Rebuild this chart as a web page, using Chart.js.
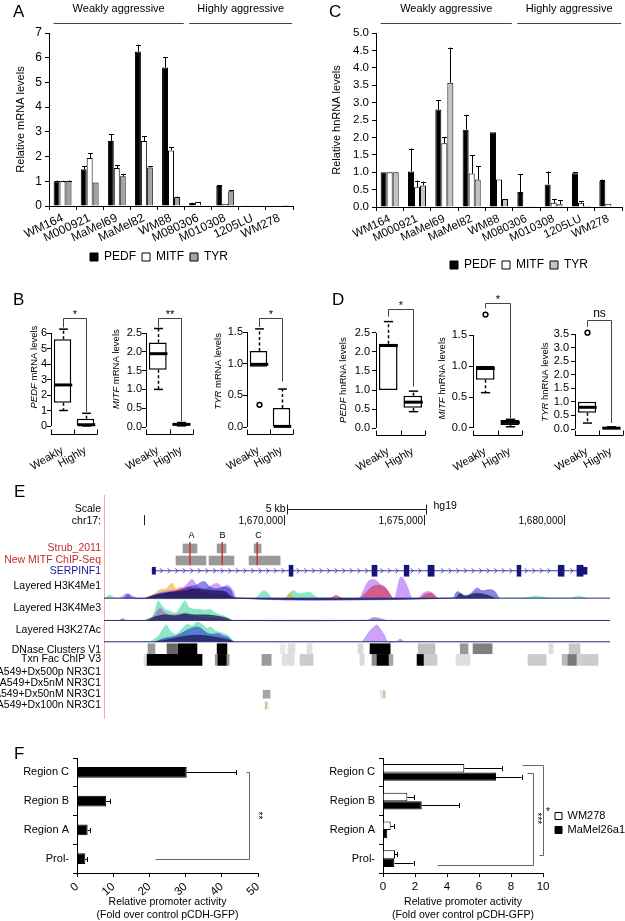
<!DOCTYPE html>
<html>
<head>
<meta charset="utf-8">
<title>PEDF / MITF figure</title>
<script src="https://cdn.jsdelivr.net/npm/chart.js@4.4.1/dist/chart.umd.min.js"></script>
<style>
  html, body { margin: 0; padding: 0; background: #fff; overflow: hidden; }
  #fig { position: relative; width: 625px; height: 921px; overflow: hidden; background: #fff; }
  #fig canvas { position: absolute; }
  .tag { position: absolute; font: 17px 'Liberation Sans', Arial, sans-serif; line-height: 17px; color: #000; }
</style>
</head>
<body>
<div id="fig">
  <canvas id="chartA" width="318" height="273" style="left:0;top:0"></canvas>
  <canvas id="chartC" width="418" height="281" style="left:310px;top:0"></canvas>
  <canvas id="boxB1" width="100" height="184" style="left:0;top:286px"></canvas>
  <canvas id="boxB2" width="100" height="184" style="left:100px;top:286px"></canvas>
  <canvas id="boxB3" width="100" height="184" style="left:200px;top:286px"></canvas>
  <canvas id="boxD1" width="100" height="184" style="left:330px;top:286px"></canvas>
  <canvas id="boxD2" width="100" height="184" style="left:430px;top:286px"></canvas>
  <canvas id="boxD3" width="93" height="184" style="left:532px;top:286px"></canvas>
  <canvas id="chartE" width="625" height="247" style="left:0;top:483px"></canvas>
  <canvas id="chartF1" width="300" height="181" style="left:0;top:740px"></canvas>
  <canvas id="chartF2" width="335" height="196" style="left:300px;top:725px"></canvas>
  <div class="tag" style="left:13px;top:3px">A</div>
  <div class="tag" style="left:329px;top:3px">C</div>
  <div class="tag" style="left:13px;top:291px">B</div>
  <div class="tag" style="left:332px;top:291px">D</div>
  <div class="tag" style="left:14px;top:483px">E</div>
  <div class="tag" style="left:14px;top:745px">F</div>
</div>
<script>
// ---------- A / C : expression in cell lines ----------
const cellLines = ['WM164', 'M000921', 'MaMel69', 'MaMel82', 'WM88', 'M080306', 'M010308', '1205LU', 'WM278'];
const aggrGroups = ['Weakly aggressive', 'Highly aggressive'];
const aggrFirst = [0, 5];
const aggrLast = [4, 8];

const pedfMrna = [1.0, 1.49, 2.63, 6.25, 5.6, 0.12, 0.81, 0.01, 0.0];
const pedfMrnaErr = [0.03, 0.12, 0.27, 0.28, 0.42, 0.01, 0.03, 0, 0];
const mitfMrna = [1.0, 1.94, 1.54, 2.63, 2.25, 0.16, 0.08, 0.01, 0.01];
const mitfMrnaErr = [0.02, 0.19, 0.1, 0.2, 0.12, 0, 0, 0, 0];
const tyrMrna = [1.0, 0.95, 1.2, 1.56, 0.35, 0.01, 0.6, 0.01, 0.04];
const tyrMrnaErr = [0.03, 0, 0.1, 0.04, 0.03, 0, 0.04, 0, 0];

const pedfHn = [1.0, 1.02, 2.8, 2.22, 2.15, 0.43, 0.65, 0.97, 0.75];
const pedfHnErr = [0, 0.66, 0.27, 0.43, 0, 0.52, 0.37, 0.03, 0.04];
const mitfHn = [1.0, 0.57, 1.83, 0.96, 0.79, 0.02, 0.12, 0.12, 0.09];
const mitfHnErr = [0, 0.19, 0.17, 0.52, 0, 0, 0.1, 0.05, 0];
const tyrHn = [1.0, 0.62, 3.57, 0.79, 0.23, 0.01, 0.08, 0.03, 0];
const tyrHnErr = [0, 0.11, 1.01, 0.38, 0, 0, 0.12, 0, 0];

// ---------- B / D : box plots, [min, q1, median, q3, max] ----------
const boxCats = ['Weakly', 'Highly'];
const pedfMrnaWeakly = [1.0, 1.5, 2.65, 5.6, 6.25];
const pedfMrnaHighly = [0.0, 0.02, 0.08, 0.47, 0.82];
const mitfMrnaWeakly = [1.0, 1.52, 1.95, 2.25, 2.62];
const mitfMrnaHighly = [0.03, 0.05, 0.07, 0.1, 0.12];
const tyrMrnaWeakly = [0.95, 0.95, 0.99, 1.2, 1.55];
const tyrMrnaHighly = [0.0, 0.0, 0.01, 0.3, 0.6];
const tyrMrnaOutliers = [0.35];
const pedfHnWeakly = [1.0, 1.0, 2.17, 2.22, 2.8];
const pedfHnHighly = [0.43, 0.53, 0.68, 0.85, 0.97];
const mitfHnWeakly = [0.57, 0.78, 0.96, 1.0, 1.0];
const mitfHnHighly = [0.02, 0.05, 0.09, 0.13, 0.14];
const mitfHnOutliers = [1.83];
const tyrHnWeakly = [0.22, 0.6, 0.8, 1.0, 1.0];
const tyrHnHighly = [0.0, 0.0, 0.03, 0.06, 0.08];
const tyrHnOutliers = [3.55];
const ticks0to6 = [0, 1, 2, 3, 4, 5, 6];
const ticks0to25 = [0, 0.5, 1, 1.5, 2, 2.5];
const ticks0to15 = [0, 0.5, 1, 1.5];
const ticks0to35 = [0, 0.5, 1, 1.5, 2, 2.5, 3, 3.5];

// ---------- E : SERPINF1 locus, chr17 (kb) ----------
const chromTicks = [1665, 1670, 1675, 1680];
const chromTickLabels = ['', '1,670,000', '1,675,000', '1,680,000'];
const scaleBar = [1670.1, 1675.07];
const regionNames = ['A', 'B', 'C'];
const regionPos = [1666.68, 1667.79, 1669.07];
const strubPeaks = [[1666.39, 1666.89], [1667.61, 1667.93], [1668.93, 1669.18]];
const strubSummits = [1666.64, 1667.79, 1669.04];
const mitfChipPeaks = [[1666.14, 1667.21], [1667.32, 1668.21], [1668.75, 1669.86]];
const serpinf1Span = [1665.41, 1680.68];
const serpinf1Exons = [[1670.18, 1670.32], [1673.14, 1673.32], [1674.29, 1674.46], [1675.14, 1675.36],
  [1678.32, 1678.46], [1679.79, 1680.0], [1680.46, 1680.68]];
const serpinf1Utr = [[1665.29, 1665.41], [1680.68, 1680.82]];
const dnaseClusters = [[1665.14, 1665.39], [1665.82, 1666.18], [1666.21, 1666.89], [1667.61, 1667.96],
  [1669.86, 1670.04], [1670.14, 1670.39], [1670.82, 1671.0], [1672.64, 1672.82], [1673.07, 1673.79],
  [1674.79, 1675.39], [1676.29, 1676.57], [1676.75, 1677.43], [1679.46, 1679.61], [1680.18, 1680.57]];
const dnaseScores = [400, 600, 1000, 1000, 90, 130, 120, 150, 1000, 250, 400, 500, 130, 220];
const txnSites = [[1665.0, 1665.11], [1665.11, 1667.07], [1667.54, 1667.64], [1667.64, 1667.96],
  [1667.96, 1668.04], [1669.21, 1669.54], [1669.93, 1670.36], [1670.57, 1671.04], [1672.71, 1672.86],
  [1673.14, 1673.32], [1673.32, 1673.75], [1673.75, 1673.89], [1674.75, 1675.0], [1675.0, 1675.46],
  [1676.14, 1676.64], [1678.71, 1679.36], [1679.93, 1680.14], [1680.14, 1680.46], [1680.46, 1680.64],
  [1680.64, 1681.21]];
const txnScores = [130, 1000, 400, 1000, 400, 400, 130, 200, 150, 450, 1000, 350, 1000, 200, 130, 200, 270, 530, 180, 200];
const nr3c1Dx50 = [[1669.25, 1669.5], [1673.43, 1673.64]];
const nr3c1Dx50Scores = [350, 80];
const nr3c1Dx50Summits = [1673.57];
const nr3c1Dx100 = [[1669.29, 1669.46]];
const nr3c1Dx100Scores = [60];
const nr3c1Dx100Summits = [1669.36];

// layered histone signals, [kb, signal]
const k4me1Orange = [[1665.04, 0], [1665.39, 5], [1665.57, 9], [1665.79, 10], [1666.0, 16], [1666.14, 10], [1666.29, 12],
  [1666.5, 8], [1666.71, 10], [1667.0, 6], [1667.36, 4], [1667.71, 3], [1668.07, 2], [1668.29, 0], [1670.04, 0],
  [1670.21, 5], [1670.36, 0]];
const k4me1Purple = [[1664.14, 0], [1664.39, 5], [1664.61, 2], [1664.75, 0], [1665.21, 0], [1665.5, 5], [1665.86, 8],
  [1666.21, 9], [1666.5, 14], [1666.71, 20], [1666.93, 12], [1667.18, 10], [1667.43, 14], [1667.61, 16], [1667.79, 12],
  [1668.0, 14], [1668.18, 8], [1668.32, 0], [1672.64, 0], [1672.86, 10], [1673.0, 18], [1673.14, 20], [1673.29, 19],
  [1673.43, 15], [1673.61, 12], [1673.79, 4], [1673.89, 0], [1673.96, 0], [1674.07, 14], [1674.18, 23], [1674.32, 18],
  [1674.46, 8], [1674.57, 0], [1674.79, 0], [1675.0, 6], [1675.21, 7], [1675.39, 3], [1675.5, 0]];
const k4me1Red = [[1665.57, 0], [1665.86, 6], [1666.14, 8], [1666.43, 10], [1666.64, 12], [1666.86, 8], [1667.18, 6],
  [1667.54, 4], [1667.89, 3], [1668.14, 0], [1671.64, 0], [1671.86, 3], [1672.07, 0], [1672.71, 0], [1672.93, 6],
  [1673.14, 12], [1673.36, 14], [1673.57, 12], [1673.79, 4], [1673.89, 0], [1674.86, 0], [1675.04, 4], [1675.29, 5],
  [1675.43, 0]];
const k4me1Blue = [[1664.29, 0], [1664.43, 4], [1664.57, 0], [1665.04, 0], [1665.39, 4], [1665.75, 6], [1666.21, 8],
  [1666.57, 12], [1666.86, 14], [1667.14, 18], [1667.36, 12], [1667.57, 10], [1667.86, 12], [1668.07, 10], [1668.29, 0],
  [1676.0, 0], [1676.18, 7], [1676.36, 4], [1676.54, 3], [1676.71, 6], [1676.89, 11], [1677.07, 8], [1677.29, 9],
  [1677.5, 8], [1677.68, 0]];
const k4me1Navy = [[1665.04, 0], [1665.39, 3], [1665.93, 6], [1666.46, 8], [1666.82, 10], [1667.18, 9], [1667.54, 8],
  [1667.89, 7], [1668.25, 0], [1676.11, 0], [1676.29, 5], [1676.46, 2], [1676.82, 5], [1677.18, 4], [1677.54, 0]];
const k4me1Teal = [[1663.61, 0], [1663.79, 3], [1663.96, 0], [1668.96, 0], [1669.14, 5], [1669.29, 8], [1669.43, 5],
  [1669.57, 0], [1670.04, 0], [1670.21, 6], [1670.36, 8], [1670.5, 5], [1670.93, 6], [1671.11, 2], [1671.29, 0],
  [1678.5, 0], [1679.0, 2], [1679.5, 0], [1680.2, 0], [1680.5, 2], [1680.8, 0]];
const k4me3Teal = [[1665.21, 0], [1665.39, 10], [1665.5, 21], [1665.61, 17], [1665.75, 12], [1665.93, 10], [1666.14, 8],
  [1666.29, 14], [1666.46, 21], [1666.61, 14], [1666.82, 12], [1667.0, 12], [1667.18, 11], [1667.36, 12], [1667.54, 8],
  [1667.71, 6], [1667.93, 4], [1668.14, 0]];
const k4me3Purple = [[1665.29, 0], [1665.43, 8], [1665.57, 13], [1665.71, 9], [1665.93, 6], [1666.29, 7], [1666.5, 8],
  [1666.71, 5], [1667.0, 4], [1667.36, 3], [1667.71, 2], [1668.0, 0], [1672.93, 0], [1673.18, 3], [1673.43, 2], [1673.64, 0]];
const k4me3Navy = [[1665.04, 0], [1665.39, 4], [1665.75, 6], [1666.11, 5], [1666.46, 7], [1666.82, 6], [1667.18, 6],
  [1667.54, 5], [1667.89, 3], [1668.14, 0]];
const k4me3Red = [[1664.14, 0], [1664.21, 2], [1664.36, 0]];
const k27acTeal = [[1665.21, 0], [1665.5, 6], [1665.68, 14], [1665.79, 18], [1665.93, 12], [1666.14, 8], [1666.36, 14],
  [1666.54, 19], [1666.71, 17], [1666.89, 21], [1667.07, 19], [1667.25, 14], [1667.36, 16], [1667.54, 12], [1667.71, 10],
  [1667.93, 8], [1668.07, 5], [1668.21, 0]];
const k27acBlue = [[1665.39, 0], [1665.75, 4], [1666.11, 6], [1666.39, 10], [1666.64, 14], [1666.86, 16], [1667.0, 15],
  [1667.21, 10], [1667.43, 8], [1667.64, 9], [1667.86, 6], [1668.0, 5], [1668.14, 0]];
const k27acNavy = [[1665.39, 0], [1665.93, 3], [1666.46, 6], [1667.0, 7], [1667.54, 5], [1668.07, 2], [1668.21, 0]];
const k27acPurple = [[1672.79, 0], [1672.93, 6], [1673.07, 12], [1673.21, 16], [1673.32, 18], [1673.43, 14], [1673.57, 8],
  [1673.71, 0], [1674.0, 0], [1674.14, 3], [1674.29, 0]];

const trackLabels = ['A549+Dx100n NR3C1', 'A549+Dx50nM NR3C1', 'A549+Dx5nM NR3C1', 'A549+Dx500p NR3C1',
  'Txn Fac ChIP V3', 'DNase Clusters V1', 'Layered H3K27Ac', 'Layered H3K4Me3', 'Layered H3K4Me1',
  'SERPINF1', 'New MITF ChIP-Seq', 'Strub_2011', 'chr17:', 'Scale'];

// ---------- F : promoter reporter assays ----------
const regions = ['Region C', 'Region B', 'Region A', 'Prol-'];
const promoterActivity = [30.3, 8.07, 2.94, 2.29];
const promoterActivityErr = [13.7, 1.1, 0.73, 0.46];
const wm278Activity = [5.08, 1.52, 0.48, 0.75];
const wm278ActivityErr = [2.35, 0.42, 0.2, 0.15];
const mamel26Activity = [7.06, 2.42, 0.27, 0.71];
const mamel26ActivityErr = [1.6, 2.35, 0, 1.2];
const promoterTitle = ['Relative promoter activity', '(Fold over control pCDH-GFP)'];

// =====================================================================
Chart.defaults.font.family = "'Liberation Sans', Arial, Helvetica, sans-serif";
Chart.defaults.color = '#000';
const FONT = "'Liberation Sans', Arial, Helvetica, sans-serif";
const common = { responsive: false, animation: false, devicePixelRatio: 1, events: [] };
const el = id => document.getElementById(id);

function seg(ctx, x0, y0, x1, y1) {
  ctx.beginPath(); ctx.moveTo(x0, y0); ctx.lineTo(x1, y1); ctx.stroke();
}

// error bars from dataset.errors
const errorBars = {
  id: 'errorBars',
  afterDatasetsDraw(chart) {
    const {ctx} = chart;
    const horiz = chart.options.indexAxis === 'y';
    const vs = horiz ? chart.scales.x : chart.scales.y;
    ctx.save();
    ctx.strokeStyle = '#000';
    ctx.lineWidth = 1;
    chart.data.datasets.forEach((ds, di) => {
      if (!ds.errors) return;
      chart.getDatasetMeta(di).data.forEach((bar, i) => {
        const e = ds.errors[i];
        if (!e) return;
        const p = vs.getPixelForValue(ds.data[i] + e);
        if (horiz) {
          const y = Math.round(bar.y) + 0.5;
          seg(ctx, bar.x, y, p, y);
          seg(ctx, Math.round(p) + 0.5, y - 2.5, Math.round(p) + 0.5, y + 2.5);
        } else {
          const x = Math.round(bar.x) + 0.5;
          seg(ctx, x, bar.y, x, p);
          seg(ctx, x - 2.5, Math.round(p) + 0.5, x + 2.5, Math.round(p) + 0.5);
        }
      });
    });
    ctx.restore();
  }
};

// "Weakly / Highly aggressive" headers
const groupHeader = {
  id: 'groupHeader',
  afterDraw(chart) {
    const {ctx, scales: {x}} = chart;
    ctx.save();
    ctx.font = '11px ' + FONT;
    ctx.fillStyle = '#000';
    ctx.strokeStyle = '#444';
    ctx.lineWidth = 1;
    ctx.textAlign = 'center';
    ctx.textBaseline = 'middle';
    aggrGroups.forEach((name, i) => {
      const x0 = x.getPixelForValue(aggrFirst[i] - 0.33);
      const x1 = x.getPixelForValue(aggrLast[i] + 0.47);
      seg(ctx, x0, 23.5, x1, 23.5);
      ctx.fillText(name, (x0 + x1) / 2, 9);
    });
    ctx.restore();
  }
};

function expressionChart(id, o) {
  return new Chart(el(id), {
    type: 'bar',
    data: {
      labels: cellLines,
      datasets: [
        { label: 'PEDF', data: o.pedf, errors: o.pedfErr, backgroundColor: '#000' },
        { label: 'MITF', data: o.mitf, errors: o.mitfErr, backgroundColor: '#fff' },
        { label: 'TYR', data: o.tyr, errors: o.tyrErr, backgroundColor: o.tyrColor }
      ].map(d => Object.assign(d, { borderColor: '#000', borderWidth: 1, categoryPercentage: 0.66, barPercentage: 1 }))
    },
    options: {
      ...common,
      layout: { padding: { top: 33 } },
      scales: {
        x: {
          grid: { drawOnChartArea: false, tickLength: 4, color: '#000' },
          border: { color: '#000' },
          ticks: { font: { size: o.tickSize }, minRotation: 25, maxRotation: 25, autoSkip: false, padding: 1 },
          afterFit: s => { s.height = o.xH; }
        },
        y: {
          min: 0, max: o.max,
          ticks: { stepSize: o.step, font: { size: o.tickSize }, padding: 3, callback: v => v.toFixed(o.dec) },
          grid: { drawOnChartArea: false, tickLength: 4, color: '#000' },
          border: { color: '#000' },
          title: { display: true, text: o.yTitle, font: { size: 11 }, padding: { top: o.titlePad, bottom: 0 } },
          afterFit: s => { s.width = o.yW; }
        },
        pad: {
          type: 'linear', position: 'right',
          grid: { display: false }, ticks: { display: false }, border: { display: false },
          afterFit: s => { s.width = o.padW; }
        }
      },
      plugins: {
        legend: { position: 'bottom', labels: { boxWidth: 8, boxHeight: 8, padding: 6, font: { size: 12 } } },
        tooltip: { enabled: false }
      }
    },
    plugins: [errorBars, groupHeader]
  });
}

expressionChart('chartA', {
  pedf: pedfMrna, pedfErr: pedfMrnaErr, mitf: mitfMrna, mitfErr: mitfMrnaErr, tyr: tyrMrna, tyrErr: tyrMrnaErr,
  tyrColor: '#a3a3a3', max: 7, step: 1, dec: 0, tickSize: 12, yTitle: 'Relative mRNA levels',
  titlePad: 14, yW: 49, padW: 25, xH: 39
});
expressionChart('chartC', {
  pedf: pedfHn, pedfErr: pedfHnErr, mitf: mitfHn, mitfErr: mitfHnErr, tyr: tyrHn, tyrErr: tyrHnErr,
  tyrColor: '#c4c4c4', max: 5, step: 0.5, dec: 1, tickSize: 11.5, yTitle: 'Relative hnRNA levels',
  titlePad: 20, yW: 66, padW: 106, xH: 46
});

// ---------- box plots ----------
const boxCfg = {
  boxB1: { weakly: pedfMrnaWeakly, highly: pedfMrnaHighly, ticks: ticks0to6, dec: 0, min: -0.516, max: 8.13,
    yW: 51, padR: 3, xH: 36, tickPad: 0, gene: 'PEDF', rest: ' mRNA levels', titleX: 34, titleAt: 3.8,
    sig: { label: '*', top: 6.97, left: 6.35, right: 0.92 } },
  boxB2: { weakly: mitfMrnaWeakly, highly: mitfMrnaHighly, ticks: ticks0to25, dec: 1, min: -0.186, max: 3.378,
    yW: 46, padR: 7, xH: 36, tickPad: 0, gene: 'MITF', rest: ' mRNA levels', titleX: 16, titleAt: 1.54,
    sig: { label: '**', top: 2.9, left: 2.65, right: 0.16 } },
  boxB3: { weakly: tyrMrnaWeakly, highly: tyrMrnaHighly, outliers: tyrMrnaOutliers, ticks: ticks0to15, dec: 1,
    min: -0.11, max: 2.006, yW: 47, padR: 7, xH: 36, tickPad: 0, gene: 'TYR', rest: ' mRNA levels', titleX: 18,
    titleAt: 0.88, sig: { label: '*', top: 1.72, left: 1.58, right: 0.72 } },
  boxD1: { weakly: pedfHnWeakly, highly: pedfHnHighly, ticks: ticks0to25, dec: 1, min: -0.184, max: 3.368,
    yW: 46, padR: 5, xH: 35, tickPad: 2, gene: 'PEDF', rest: ' hnRNA levels', titleX: 13, titleAt: 1.26,
    sig: { label: '*', top: 3.13, left: 2.93, right: 1.09 } },
  boxD2: { weakly: mitfHnWeakly, highly: mitfHnHighly, outliers: mitfHnOutliers, ticks: ticks0to15, dec: 1,
    min: -0.113, max: 2.065, yW: 43, padR: 8, xH: 35, tickPad: 2, gene: 'MITF', rest: ' hnRNA levels', titleX: 12,
    titleAt: 0.8, sig: { label: '*', top: 2.02, left: 1.93, right: 0.16 } },
  boxD3: { weakly: tyrHnWeakly, highly: tyrHnHighly, outliers: tyrHnOutliers, ticks: ticks0to35, dec: 1,
    min: -0.221, max: 4.753, yW: 43, padR: 2, xH: 35, tickPad: 2, gene: 'TYR', rest: ' hnRNA levels', titleX: 13,
    titleAt: 1.73, sig: { label: 'ns', top: 4.02, left: 3.77, right: 0.22 } }
};

const boxExtras = {
  id: 'boxExtras',
  afterDatasetsDraw(chart) {
    const o = boxCfg[chart.canvas.id];
    const {ctx, chartArea: a, scales: {x, y}} = chart;
    const py = v => y.getPixelForValue(v);
    const meta = chart.getDatasetMeta(0);
    const stats = [o.weakly, o.highly];
    const outs = [o.outliers || [], []];
    ctx.save();
    ctx.strokeStyle = '#000';
    stats.forEach((s, i) => {
      const bar = meta.data[i];
      const cx = Math.round(bar.x) + 0.5;
      const hw = bar.width / 2;
      ctx.lineWidth = 1.5;
      ctx.setLineDash([3, 2.5]);
      if (s[4] > s[3]) seg(ctx, cx, py(s[3]), cx, py(s[4]));
      if (s[0] < s[1]) seg(ctx, cx, py(s[1]), cx, py(s[0]));
      ctx.setLineDash([]);
      if (s[4] > s[3]) seg(ctx, cx - hw / 2, py(s[4]), cx + hw / 2, py(s[4]));
      if (s[0] < s[1]) seg(ctx, cx - hw / 2, py(s[0]), cx + hw / 2, py(s[0]));
      ctx.lineWidth = 3;
      seg(ctx, cx - hw, py(s[2]), cx + hw, py(s[2]));
      ctx.lineWidth = 1.5;
      outs[i].forEach(v => { ctx.beginPath(); ctx.arc(cx, py(v), 2.4, 0, Math.PI * 2); ctx.stroke(); });
    });
    // axes, R style
    ctx.lineWidth = 1;
    const lx = Math.round(a.left) + 0.5;
    seg(ctx, lx, py(o.ticks[0]), lx, py(o.ticks[o.ticks.length - 1]));
    const by = Math.round(a.bottom) + 0.5;
    seg(ctx, a.left, by, a.right, by);
    [a.left, (a.left + a.right) / 2, a.right].forEach(bx => {
      const rx = Math.round(bx) + 0.5;
      seg(ctx, rx, by, rx, by - 5);
    });
    // significance bracket
    const b = o.sig;
    const x0 = Math.round(x.getPixelForValue(0)) + 0.5;
    const x1 = Math.round(x.getPixelForValue(1)) + 0.5;
    const ty = Math.round(py(b.top)) + 0.5;
    ctx.strokeStyle = '#444';
    ctx.beginPath();
    ctx.moveTo(x0, py(b.left)); ctx.lineTo(x0, ty); ctx.lineTo(x1, ty); ctx.lineTo(x1, py(b.right));
    ctx.stroke();
    ctx.fillStyle = '#000';
    ctx.textAlign = 'center';
    ctx.textBaseline = 'alphabetic';
    ctx.font = (b.label === 'ns' ? '12px ' : '11px ') + FONT;
    ctx.fillText(b.label, (x0 + x1) / 2, ty - (b.label === 'ns' ? 4 : 1));
    // y title with italic gene symbol
    ctx.translate(o.titleX, py(o.titleAt));
    ctx.rotate(-Math.PI / 2);
    const fi = 'italic 9.5px ' + FONT, fn = '9.5px ' + FONT;
    ctx.font = fi; const w1 = ctx.measureText(o.gene).width;
    ctx.font = fn; const w2 = ctx.measureText(o.rest).width;
    const sx = -(w1 + w2) / 2;
    ctx.textAlign = 'left';
    ctx.textBaseline = 'middle';
    ctx.font = fi; ctx.fillText(o.gene, sx, 0);
    ctx.font = fn; ctx.fillText(o.rest, sx + w1, 0);
    ctx.restore();
  }
};

Object.keys(boxCfg).forEach(id => {
  const o = boxCfg[id];
  new Chart(el(id), {
    type: 'bar',
    data: {
      labels: boxCats,
      datasets: [{
        data: [o.weakly, o.highly].map(s => [s[1], s[3]]),
        backgroundColor: '#fff', borderColor: '#000', borderWidth: 1.5, borderSkipped: false,
        barPercentage: 0.76, categoryPercentage: 1
      }]
    },
    options: {
      ...common,
      layout: { padding: { top: 14, right: o.padR } },
      scales: {
        x: {
          grid: { display: false }, border: { display: false },
          ticks: { font: { size: 11 }, minRotation: 30, maxRotation: 30, autoSkip: false, padding: 2 },
          afterFit: s => { s.height = o.xH; }
        },
        y: {
          min: o.min, max: o.max,
          afterBuildTicks: s => { s.ticks = o.ticks.map(v => ({ value: v })); },
          ticks: { font: { size: 11 }, padding: o.tickPad, callback: v => v.toFixed(o.dec) },
          grid: { drawOnChartArea: false, tickLength: 4, color: '#000' },
          border: { display: false },
          afterFit: s => { s.width = o.yW; }
        }
      },
      plugins: { legend: { display: false }, tooltip: { enabled: false } }
    },
    plugins: [boxExtras]
  });
});

// ---------- E : genome browser ----------
const rowY = { strub: 174, mitf: 161, gene: 150, k4me1: 120.5, k4me3: 96.5, k27ac: 73.5, dnase: 66, txn: 54,
  dx50: 17, dx100: 5, scale: 216, hg: 220, chrom: 203, letters: 188 };
const trackLabelY = [5, 17, 29, 41, 55, 65, 86, 110, 133, 150, 161, 174, 203, 216];
const trackLabelColors = ['#000', '#000', '#000', '#000', '#000', '#000', '#000', '#000', '#000',
  '#20209a', '#c62b2b', '#c62b2b', '#000', '#000'];
const eMin = 1663.57, eMax = 1681.64;

const gray = s => { const g = Math.round(255 - s * 0.255); return `rgb(${g},${g},${g})`; };
function boxes(intervals, row, thick, colors) {
  return { type: 'bar', indexAxis: 'y', grouped: false, barThickness: thick,
    data: intervals.map(iv => ({ x: iv, y: row })), backgroundColor: colors, borderWidth: 0, order: 0 };
}
function signal(points, base, color, order) {
  return { type: 'line', data: points.map(p => ({ x: p[0], y: base + p[1] })), fill: { value: base },
    backgroundColor: color, borderColor: color, borderWidth: 0.6, pointRadius: 0, tension: 0.35, order };
}
function hline(x0, x1, row, color, width) {
  return { type: 'line', data: [{ x: x0, y: row }, { x: x1, y: row }], borderColor: color, borderWidth: width,
    pointRadius: 0, fill: false, order: 0 };
}
const cTeal = 'rgba(95,222,178,0.72)', cPurple = 'rgba(176,104,246,0.62)', cBlue = 'rgba(38,38,210,0.55)',
  cNavy = 'rgba(24,20,78,0.72)', cRed = 'rgba(214,34,56,0.55)', cOrange = 'rgba(242,176,40,0.65)';

const browserDecor = {
  id: 'browserDecor',
  afterDatasetsDraw(chart) {
    const {ctx, scales: {x, y}} = chart;
    const X = v => x.getPixelForValue(v);
    const Y = v => y.getPixelForValue(v);
    ctx.save();
    // intron direction chevrons
    ctx.strokeStyle = '#3838a8';
    ctx.lineWidth = 0.9;
    const gy = Y(rowY.gene);
    for (let px = X(serpinf1Span[0]) + 6; px < X(serpinf1Span[1]) - 5; px += 7.6) {
      const kb = x.getValueForPixel(px);
      if (serpinf1Exons.some(e => kb > e[0] - 0.1 && kb < e[1] + 0.1)) continue;
      ctx.beginPath(); ctx.moveTo(px - 1.5, gy - 2.5); ctx.lineTo(px + 1, gy); ctx.lineTo(px - 1.5, gy + 2.5); ctx.stroke();
    }
    // Strub_2011 summits through both ChIP tracks
    ctx.strokeStyle = '#cf2b2b';
    ctx.lineWidth = 1.4;
    strubSummits.forEach(s => seg(ctx, X(s), Y(rowY.strub + 7), X(s), Y(rowY.mitf - 5)));
    // NR3C1 summits
    ctx.strokeStyle = '#e39a3c';
    ctx.lineWidth = 1.2;
    nr3c1Dx50Summits.forEach(s => seg(ctx, X(s), Y(rowY.dx50 + 4), X(s), Y(rowY.dx50 - 4)));
    nr3c1Dx100Summits.forEach(s => seg(ctx, X(s), Y(rowY.dx100 + 4), X(s), Y(rowY.dx100 - 4)));
    ctx.restore();
  },
  afterDraw(chart) {
    const {ctx, scales: {x, y}} = chart;
    const X = v => Math.round(x.getPixelForValue(v)) + 0.5;
    const Y = v => y.getPixelForValue(v);
    ctx.save();
    ctx.strokeStyle = '#222';
    ctx.fillStyle = '#000';
    ctx.lineWidth = 1;
    // scale bar
    const sy = Math.round(Y(rowY.scale)) + 0.5;
    seg(ctx, X(scaleBar[0]), sy, X(scaleBar[1]), sy);
    seg(ctx, X(scaleBar[0]), sy - 5, X(scaleBar[0]), sy + 5);
    seg(ctx, X(scaleBar[1]), sy - 5, X(scaleBar[1]), sy + 5);
    ctx.font = '10.5px ' + FONT;
    ctx.textBaseline = 'middle';
    ctx.textAlign = 'right';
    ctx.fillText('5 kb', X(scaleBar[0]) - 2, sy);
    ctx.textAlign = 'left';
    ctx.fillText('hg19', X(scaleBar[1]) + 7, Y(rowY.hg));
    // chromosome coordinate ticks
    ctx.font = '10px ' + FONT;
    ctx.textAlign = 'right';
    chromTicks.forEach((t, i) => {
      seg(ctx, X(t), Y(rowY.chrom + 7), X(t), Y(rowY.chrom - 4));
      if (chromTickLabels[i]) ctx.fillText(chromTickLabels[i], X(t) - 1.5, Y(rowY.chrom));
    });
    // region letters
    ctx.font = '9px ' + FONT;
    ctx.textAlign = 'center';
    regionNames.forEach((n, i) => ctx.fillText(n, X(regionPos[i]), Y(rowY.letters)));
    ctx.restore();
  }
};

new Chart(el('chartE'), {
  type: 'line',
  data: {
    datasets: [
      boxes(strubPeaks, rowY.strub, 9, '#9a9a9a'),
      boxes(mitfChipPeaks, rowY.mitf, 9, '#9a9a9a'),
      boxes(serpinf1Exons, rowY.gene, 11, '#16167a'),
      boxes(serpinf1Utr, rowY.gene, 7, '#16167a'),
      boxes(dnaseClusters, rowY.dnase, 10, dnaseScores.map(gray)),
      boxes(txnSites, rowY.txn, 11, txnScores.map(gray)),
      boxes(nr3c1Dx50, rowY.dx50, 8, nr3c1Dx50Scores.map(gray)),
      boxes(nr3c1Dx100, rowY.dx100, 8, nr3c1Dx100Scores.map(gray)),
      hline(serpinf1Span[0], serpinf1Span[1], rowY.gene, '#3838a8', 1),
      hline(eMin, eMax, rowY.k4me1, '#2a2a70', 1),
      hline(eMin, eMax, rowY.k4me3, '#2a2a70', 1),
      hline(eMin, eMax, rowY.k27ac, '#2a2a70', 1),
      signal(k4me1Teal, rowY.k4me1, cTeal, 6),
      signal(k4me1Orange, rowY.k4me1, cOrange, 5),
      signal(k4me1Purple, rowY.k4me1, cPurple, 4),
      signal(k4me1Red, rowY.k4me1, cRed, 3),
      signal(k4me1Blue, rowY.k4me1, cBlue, 2),
      signal(k4me1Navy, rowY.k4me1, cNavy, 1),
      signal(k4me3Teal, rowY.k4me3, cTeal, 6),
      signal(k4me3Red, rowY.k4me3, cRed, 5),
      signal(k4me3Purple, rowY.k4me3, 'rgba(150,110,190,0.7)', 4),
      signal(k4me3Navy, rowY.k4me3, cNavy, 1),
      signal(k27acTeal, rowY.k27ac, cTeal, 6),
      signal(k27acPurple, rowY.k27ac, cPurple, 4),
      signal(k27acBlue, rowY.k27ac, cBlue, 2),
      signal(k27acNavy, rowY.k27ac, cNavy, 1)
    ]
  },
  options: {
    ...common,
    layout: { padding: { top: 12, right: 15, bottom: 12 } },
    scales: {
      x: { type: 'linear', min: eMin, max: eMax, display: false },
      y: {
        type: 'linear', min: 0, max: 223,
        afterBuildTicks: s => { s.ticks = trackLabelY.map(v => ({ value: v })); },
        ticks: { autoSkip: false, padding: 3, font: { size: 10.5 },
          color: c => trackLabelColors[c.index], callback: (v, i) => trackLabels[i] },
        grid: { display: false, drawTicks: false },
        border: { display: true, color: 'rgba(226,150,150,0.75)' },
        afterFit: s => { s.width = 104; }
      }
    },
    plugins: { legend: { display: false }, tooltip: { enabled: false } }
  },
  plugins: [browserDecor]
});

// ---------- F : reporter assays ----------
const bracketCfg = {
  chartF1: [{ pts: [[46.6, 0], [47.65, 0], [47.65, 3], [21.55, 3]], label: '**', at: [50, 1.5], rot: true }],
  chartF2: [
    { pts: [[8.69, -0.26], [10, -0.26], [10, 2.87], [9.75, 2.87]], label: '*', at: [10.3, 1.31], rot: false },
    { pts: [[9.0, 0.02], [9.375, 0.02], [9.375, 3.22], [3.375, 3.22]], label: '***', at: [9.62, 1.6], rot: true }
  ]
};
const brackets = {
  id: 'brackets',
  afterDraw(chart) {
    const {ctx, scales: {x, y}} = chart;
    ctx.save();
    ctx.strokeStyle = '#666';
    ctx.fillStyle = '#000';
    ctx.lineWidth = 1;
    bracketCfg[chart.canvas.id].forEach(b => {
      ctx.beginPath();
      b.pts.forEach((p, i) => {
        const px = Math.round(x.getPixelForValue(p[0])) + 0.5;
        const py = Math.round(y.getPixelForValue(p[1])) + 0.5;
        if (i === 0) ctx.moveTo(px, py); else ctx.lineTo(px, py);
      });
      ctx.stroke();
      ctx.save();
      ctx.translate(x.getPixelForValue(b.at[0]), y.getPixelForValue(b.at[1]));
      if (b.rot) ctx.rotate(Math.PI / 2);
      ctx.font = '10px ' + FONT;
      ctx.textAlign = 'center';
      ctx.textBaseline = 'middle';
      ctx.fillText(b.label, 0, b.rot ? 0 : 2);
      ctx.restore();
    });
    ctx.restore();
  }
};

function promoterScales(max, step, yW) {
  return {
    x: {
      min: 0, max: max,
      ticks: { stepSize: step, font: { size: 11.5 }, padding: 3 },
      grid: { drawOnChartArea: false, tickLength: 4, color: '#000' },
      border: { color: '#000' },
      title: { display: true, text: promoterTitle, font: { size: 10.5 }, padding: { top: 0, bottom: 0 } },
      afterFit: s => { s.height = 48; }
    },
    y: {
      grid: { drawOnChartArea: false, tickLength: 4, color: '#000' },
      border: { color: '#000' },
      ticks: { font: { size: 11 }, padding: 4 },
      afterFit: s => { s.width = yW; }
    }
  };
}

new Chart(el('chartF1'), {
  type: 'bar',
  data: {
    labels: regions,
    datasets: [{ label: 'Promoter activity', data: promoterActivity, errors: promoterActivityErr,
      backgroundColor: '#000', borderColor: '#000', borderWidth: 1, barPercentage: 0.38, categoryPercentage: 1 }]
  },
  options: {
    ...common,
    indexAxis: 'y',
    layout: { padding: { top: 18, right: 42 } },
    scales: promoterScales(50, 5, 77),
    plugins: { legend: { display: false }, tooltip: { enabled: false } }
  },
  plugins: [errorBars, brackets]
});

const f2Scales = promoterScales(10, 2, 83);
f2Scales.pad = { type: 'linear', position: 'right', grid: { display: false }, ticks: { display: false },
  border: { display: false }, afterFit: s => { s.width = 9; } };
new Chart(el('chartF2'), {
  type: 'bar',
  data: {
    labels: regions,
    datasets: [
      { label: 'WM278', data: wm278Activity, errors: wm278ActivityErr, backgroundColor: '#fff' },
      { label: 'MaMel26a1', data: mamel26Activity, errors: mamel26ActivityErr, backgroundColor: '#000' }
    ].map(d => Object.assign(d, { borderColor: '#000', borderWidth: 1, barPercentage: 1, categoryPercentage: 0.59 }))
  },
  options: {
    ...common,
    indexAxis: 'y',
    layout: { padding: { top: 33 } },
    scales: f2Scales,
    plugins: {
      legend: {
        position: 'right', fullSize: false, maxWidth: 90,
        title: { display: true, text: '', font: { size: 12.5 }, padding: 0 },
        labels: { boxWidth: 7, boxHeight: 7, padding: 3, font: { size: 11 } }
      },
      tooltip: { enabled: false }
    }
  },
  plugins: [errorBars, brackets]
});
</script>
</body>
</html>
